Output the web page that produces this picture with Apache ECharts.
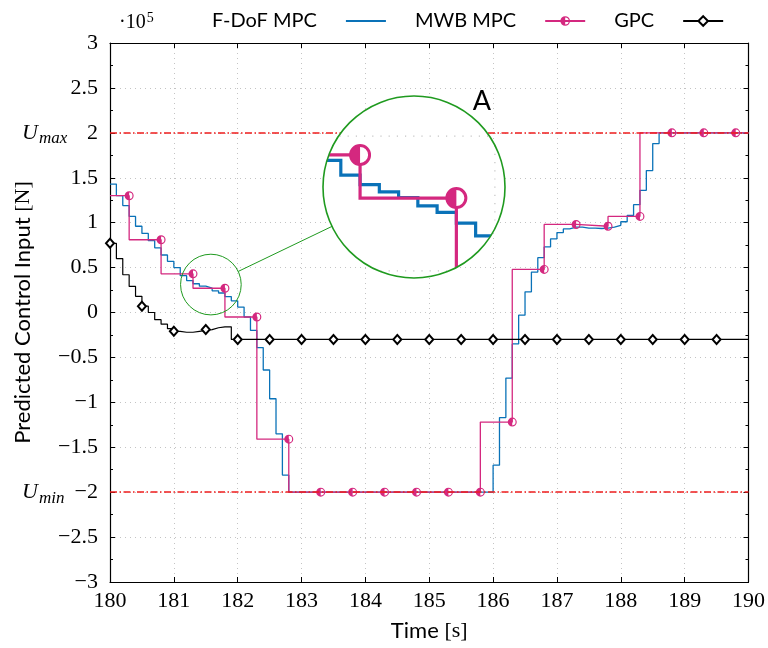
<!DOCTYPE html>
<html><head><meta charset="utf-8">
<script src="https://cdn.jsdelivr.net/npm/echarts/dist/echarts.min.js"></script>
<style>html,body{margin:0;padding:0;background:#fff}#c{width:768px;height:648px}</style>
</head><body><div id="c"></div>
<script>
// ---------------- data (values in units of 1e5 N) ----------------
const fdofT = [180.0,180.1,180.2,180.3,180.4,180.5,180.6,180.7,180.8,180.9,181.0,181.1,181.2,181.3,181.4,181.5,181.6,181.7,181.8,181.9,182.0,182.1,182.2,182.3,182.4,182.5,182.6,182.7,182.8,186.0,186.1,186.2,186.3,186.4,186.5,186.6,186.7,186.8,186.9,187.0,187.1,187.2,187.3,187.4,187.5,187.6,187.7,187.8,187.9,188.0,188.1,188.2,188.3,188.4,188.5,188.6,190.0];
const fdofV = [1.43,1.30,1.19,1.07,0.96,0.88,0.80,0.72,0.64,0.57,0.50,0.41,0.355,0.32,0.293,0.272,0.241,0.217,0.177,0.13,0.06,-0.05,-0.20,-0.39,-0.64,-0.96,-1.35,-1.81,-2.0,-1.70,-1.17,-0.73,-0.35,-0.03,0.23,0.45,0.61,0.73,0.82,0.89,0.93,0.95,0.95,0.94,0.94,0.935,0.94,0.95,0.97,1.01,1.08,1.20,1.36,1.58,1.88,2.0,2.0];
const mwbT = [180.0,180.3,180.8,181.3,181.8,182.3,182.8,183.3,183.8,184.3,184.8,185.3,185.8,186.3,186.8,187.3,187.8,188.3,188.8,189.3,189.8,190.0];
const mwbV = [1.30,1.30,0.81,0.43,0.27,-0.05,-1.41,-2.0,-2.0,-2.0,-2.0,-2.0,-2.0,-1.22,0.48,0.98,0.96,1.07,2.0,2.0,2.0,2.0];
const gpcT = [180.0,180.1,180.2,180.3,180.4,180.5,180.6,180.7,180.8,180.9,181.0,181.1,181.2,181.3,181.4,181.5,181.6,181.7,181.8,181.9,182.0,182.5,183.0,183.5,184.0,184.5,185.0,185.5,186.0,186.5,187.0,187.5,188.0,188.5,189.0,189.5,190.0];
const gpcV = [0.77,0.60,0.42,0.29,0.18,0.07,0.00,-0.08,-0.13,-0.18,-0.21,-0.22,-0.22,-0.21,-0.20,-0.19,-0.17,-0.16,-0.16,-0.30,-0.30,-0.30,-0.30,-0.30,-0.30,-0.30,-0.30,-0.30,-0.30,-0.30,-0.30,-0.30,-0.30,-0.30,-0.30,-0.30,-0.30];
const limits = [2, -2];              // U_max, U_min
const limitNames = ['max', 'min'];
const seriesNames = ['F-DoF MPC', 'MWB MPC', 'GPC'];
const spyCenter = [181.58, 0.311];   // centre of the magnified region (data)

// ---------------- layout / style ----------------
const GRID = {left: 110, top: 43, width: 642, height: 539};
const X0 = 180, X1 = 190, Y0 = -3, Y1 = 3;
const INSET = {cx: 414, cy: 187, r: 91};
const MAG = 3;
const pxX = GRID.width / (X1 - X0), pxY = GRID.height / (Y1 - Y0);
const halfX = INSET.r / (MAG * pxX), halfY = INSET.r / (MAG * pxY);
const BLUE = '#0a72b8', PINK = '#d4287f', GREEN = '#1f9a1f', RED = '#ee1c1c';
const SERIF = 'Liberation Serif', SANS = 'Lato';
const HALF_SYMBOL = 'path://M10,0 A10,10 0 1,1 10,20 A10,10 0 1,1 10,0 Z M10,2.6 A7.4,7.4 0 1,0 10,17.4 A7.4,7.4 0 1,0 10,2.6 Z M10,2.6 L10,17.4 A7.4,7.4 0 0,1 10,2.6 Z';

const zip = (T, V) => T.map((t, i) => [t, V[i]]);
const fmt = v => (v < 0 ? '\u2212' : '') + Math.abs(v);

function stepPts(api, T, V, mode) {
  const pts = [];
  for (let i = 0; i < T.length; i++) {
    if (i > 0) pts.push(mode === 'end' ? api.coord([T[i], V[i - 1]]) : api.coord([T[i - 1], V[i]]));
    pts.push(api.coord([T[i], V[i]]));
  }
  return pts;
}

function renderInset(params, api) {
  const c = api.coord(spyCenter);
  const r = api.coord([spyCenter[0] + halfX, spyCenter[1]])[0] - c[0];
  const kids = [{type: 'circle', shape: {cx: c[0], cy: c[1], r: r}, style: {fill: '#fff'}}];
  const xr = [spyCenter[0] - halfX, spyCenter[0] + halfX], yr = [spyCenter[1] - halfY, spyCenter[1] + halfY];
  for (let x = Math.ceil(xr[0]); x <= xr[1]; x += 1) {
    const a = api.coord([x, yr[0]]), b = api.coord([x, yr[1]]);
    kids.push({type: 'line', shape: {x1: a[0], y1: a[1], x2: b[0], y2: b[1]}, style: {stroke: '#c4c4c4', lineWidth: 1.2, lineDash: [1.2, 7]}});
  }
  for (let y = Math.ceil(yr[0] / 0.5) * 0.5; y <= yr[1]; y += 0.5) {
    const a = api.coord([xr[0], y]), b = api.coord([xr[1], y]);
    kids.push({type: 'line', shape: {x1: a[0], y1: a[1], x2: b[0], y2: b[1]}, style: {stroke: '#c4c4c4', lineWidth: 1.2, lineDash: [1.2, 7]}});
  }
  kids.push({type: 'polyline', shape: {points: stepPts(api, fdofT, fdofV, 'end')}, style: {stroke: BLUE, lineWidth: 3.2, fill: null}});
  kids.push({type: 'polyline', shape: {points: stepPts(api, mwbT, mwbV, 'start')}, style: {stroke: PINK, lineWidth: 3.2, fill: null}});
  for (let i = 1; i < mwbT.length - 1; i++) {
    const p = api.coord([mwbT[i], mwbV[i]]);
    kids.push({type: 'circle', shape: {cx: p[0], cy: p[1], r: 9.5}, style: {fill: '#fff', stroke: PINK, lineWidth: 3}});
    kids.push({type: 'sector', shape: {cx: p[0], cy: p[1], r0: 0, r: 9.5, startAngle: Math.PI / 2, endAngle: Math.PI * 1.5}, style: {fill: PINK}});
  }
  return {type: 'group', children: [
    {type: 'group', clipPath: {type: 'circle', shape: {cx: c[0], cy: c[1], r: r}}, children: kids},
    {type: 'circle', shape: {cx: c[0], cy: c[1], r: r}, style: {fill: null, stroke: GREEN, lineWidth: 1.6}},
    {type: 'text', x: c[0] + 68, y: c[1] - 86, style: {text: 'A', fontFamily: SANS, fontSize: 27, fill: '#000', align: 'center', verticalAlign: 'middle'}}
  ]};
}

function renderSpy(params, api) {
  const c = api.coord(spyCenter);
  const rs = INSET.r / MAG;
  const dx = INSET.cx - c[0], dy = INSET.cy - c[1], L = Math.hypot(dx, dy);
  const ux = dx / L, uy = dy / L;
  return {type: 'group', children: [
    {type: 'circle', shape: {cx: c[0], cy: c[1], r: rs}, style: {fill: null, stroke: GREEN, lineWidth: 1}},
    {type: 'line', shape: {x1: c[0] + ux * rs, y1: c[1] + uy * rs, x2: INSET.cx - ux * INSET.r, y2: INSET.cy - uy * INSET.r}, style: {stroke: GREEN, lineWidth: 1}}
  ]};
}

const tickCommon = {show: true, inside: true, length: 5, lineStyle: {color: '#000', width: 1}};
const minorCommon = {show: true, splitNumber: 2, length: 3, lineStyle: {color: '#000', width: 1}};
const lineCommon = {show: true, onZero: false, lineStyle: {color: '#000', width: 1.2}};
const gridDots = {show: true, lineStyle: {color: '#c4c4c4', width: 1, type: [1, 4]}};

const option = {
  animation: false,
  backgroundColor: '#fff',
  title: {
    text: '{a|\u00b710}{b|5}', left: 114, top: 6,
    textStyle: {fontWeight: 'normal', rich: {
      a: {fontFamily: SERIF, fontSize: 20, fontWeight: 'normal', color: '#000'},
      b: {fontFamily: SERIF, fontSize: 14, fontWeight: 'normal', color: '#000', padding: [0, 0, 10, 1]}}}
  },
  legend: {
    data: seriesNames, top: 6, left: 207, align: 'right', itemGap: 28, itemWidth: 40, itemHeight: 12,
    formatter: n => n + '{g|}',
    textStyle: {fontFamily: SANS, fontSize: 20, color: '#000', rich: {g: {width: 24}}}
  },
  grid: [
    {left: GRID.left, top: GRID.top, width: GRID.width, height: GRID.height},
    {left: INSET.cx - INSET.r, top: INSET.cy - INSET.r, width: 2 * INSET.r, height: 2 * INSET.r}
  ],
  xAxis: [
    {type: 'value', gridIndex: 0, min: X0, max: X1, interval: 1, position: 'bottom',
     axisLine: lineCommon, axisTick: tickCommon, splitLine: gridDots,
     axisLabel: {fontFamily: SERIF, fontSize: 22, color: '#000', margin: 8, showMinLabel: true, showMaxLabel: true},
     name: '{a|Time }{b|[s]}', nameLocation: 'middle', nameGap: 38,
     nameTextStyle: {rich: {a: {fontFamily: SANS, fontSize: 22, color: '#000'}, b: {fontFamily: SERIF, fontSize: 22, color: '#000'}}}},
    {type: 'value', gridIndex: 0, min: X0, max: X1, interval: 1, position: 'top',
     axisLine: lineCommon, axisTick: tickCommon, splitLine: {show: false}, axisLabel: {show: false}},
    {type: 'value', gridIndex: 1, min: spyCenter[0] - halfX, max: spyCenter[0] + halfX, show: false}
  ],
  yAxis: [
    {type: 'value', gridIndex: 0, min: Y0, max: Y1, interval: 0.5, position: 'left',
     axisLine: lineCommon, axisTick: tickCommon, minorTick: minorCommon, splitLine: gridDots,
     axisLabel: {fontFamily: SERIF, fontSize: 22, color: '#000', margin: 12, formatter: fmt, showMinLabel: true, showMaxLabel: true},
     name: '{a|Predicted Control Input }{b|[N]}', nameLocation: 'middle', nameGap: 76, nameRotate: 90,
     nameTextStyle: {rich: {a: {fontFamily: SANS, fontSize: 22, color: '#000'}, b: {fontFamily: SERIF, fontSize: 22, color: '#000'}}}},
    {type: 'value', gridIndex: 0, min: Y0, max: Y1, interval: 0.5, position: 'right',
     axisLine: lineCommon, axisTick: tickCommon, minorTick: minorCommon, splitLine: {show: false}, axisLabel: {show: false}},
    {type: 'value', gridIndex: 1, min: spyCenter[1] - halfY, max: spyCenter[1] + halfY, show: false},
    {type: 'value', gridIndex: 0, min: Y0, max: Y1, interval: 0.5, position: 'left',
     axisLine: {show: false}, axisTick: {show: false}, splitLine: {show: false},
     axisLabel: {align: 'left', margin: 88, showMinLabel: true, showMaxLabel: true,
       formatter: v => { const k = limits.indexOf(v); return k < 0 ? '' : '{u|U}{s|' + limitNames[k] + '}'; },
       rich: {u: {fontFamily: SERIF, fontStyle: 'italic', fontSize: 22, color: '#000'},
              s: {fontFamily: SERIF, fontStyle: 'italic', fontSize: 17, color: '#000', padding: [12, 0, 0, 1]}}}}
  ],
  series: [
    {name: seriesNames[0], type: 'line', xAxisIndex: 0, yAxisIndex: 0, step: 'end', symbol: 'circle', symbolSize: 1, showSymbol: false,
     data: zip(fdofT, fdofV), lineStyle: {color: BLUE, width: 1.3}, itemStyle: {color: 'rgba(0,0,0,0)', borderWidth: 0}, z: 2},
    {name: seriesNames[1], type: 'line', xAxisIndex: 0, yAxisIndex: 0, step: 'start', symbol: HALF_SYMBOL, symbolSize: 9,
     data: mwbT.map((t, i) => (i === 0 || i === mwbT.length - 1) ? {value: [t, mwbV[i]], symbol: 'none'} : [t, mwbV[i]]),
     lineStyle: {color: PINK, width: 1.3}, itemStyle: {color: PINK, borderWidth: 0}, z: 3},
    {name: seriesNames[2], type: 'line', xAxisIndex: 0, yAxisIndex: 0, step: 'end', symbol: 'emptyDiamond', symbolSize: [8, 9],
     data: gpcT.map((t, i) => (Math.abs(t * 2 - Math.round(t * 2)) < 1e-6 && t < X1) ? [t, gpcV[i]] : {value: [t, gpcV[i]], symbol: 'none'}),
     lineStyle: {color: '#000', width: 1.2}, itemStyle: {color: '#000', borderWidth: 1.6}, z: 4,
     markLine: {silent: true, symbol: 'none', label: {show: false},
       lineStyle: {color: RED, width: 1.5, type: [7, 2.5, 1.5, 2.5]},
       data: limits.map(v => ({yAxis: v}))}},
    {type: 'custom', xAxisIndex: 0, yAxisIndex: 0, data: [spyCenter], renderItem: renderSpy, z: 6, silent: true},
    {type: 'custom', xAxisIndex: 2, yAxisIndex: 2, data: [spyCenter], renderItem: renderInset, z: 8, silent: true}
  ]
};

const chart = echarts.init(document.getElementById('c'), null, {renderer: 'canvas'});
chart.setOption(option);
</script></body></html>
